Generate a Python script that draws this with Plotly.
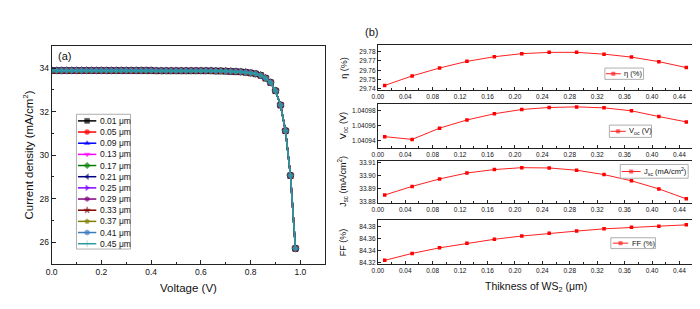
import plotly.graph_objects as go

# ---------------- data ----------------
voltage = [0.00, 0.02, 0.04, 0.06, 0.08, 0.10, 0.12, 0.14, 0.16, 0.18,
           0.20, 0.22, 0.24, 0.26, 0.28, 0.30, 0.32, 0.34, 0.36, 0.38,
           0.40, 0.42, 0.44, 0.46, 0.48, 0.50, 0.52, 0.54, 0.56, 0.58,
           0.60, 0.62, 0.64, 0.66, 0.68, 0.70, 0.72, 0.74, 0.76, 0.78,
           0.80, 0.82, 0.84, 0.86, 0.88, 0.90, 0.92, 0.94, 0.96, 0.98]
current_density = [33.89, 33.89, 33.89, 33.89, 33.89, 33.89, 33.89, 33.89, 33.89, 33.89,
                   33.89, 33.89, 33.89, 33.89, 33.89, 33.89, 33.89, 33.89, 33.89, 33.89,
                   33.89, 33.88, 33.88, 33.88, 33.88, 33.88, 33.88, 33.88, 33.88, 33.88,
                   33.88, 33.88, 33.88, 33.87, 33.87, 33.86, 33.85, 33.84, 33.83, 33.81,
                   33.78, 33.74, 33.67, 33.54, 33.34, 32.96, 32.30, 31.12, 29.06, 25.71]

thickness = [0.01, 0.05, 0.09, 0.13, 0.17, 0.21, 0.25, 0.29, 0.33, 0.37, 0.41, 0.45]
thickness_labels = ["0.01 μm", "0.05 μm", "0.09 μm", "0.13 μm", "0.17 μm", "0.21 μm",
                    "0.25 μm", "0.29 μm", "0.33 μm", "0.37 μm", "0.41 μm", "0.45 μm"]
series_colors = ["#000000", "#FF0000", "#0000FF", "#FF00FF", "#008000", "#000080",
                 "#8000FF", "#800080", "#800000", "#808000", "#3D7CC0", "#2A9C9C"]
series_symbols = ["square", "circle", "triangle-up", "triangle-down", "diamond",
                  "triangle-left", "triangle-right", "hexagon", "star", "pentagon",
                  "circle", "cross-thin"]

eta = [29.7436, 29.7539, 29.7624, 29.7696, 29.7746, 29.7779,
       29.7793, 29.7793, 29.7774, 29.7742, 29.7693, 29.7629]
voc = [1.040945, 1.0409413, 1.0409565, 1.0409676, 1.040976, 1.0409818,
       1.0409845, 1.0409853, 1.040984, 1.04098, 1.0409722, 1.040965]
jsc = [33.8854, 33.8919, 33.8975, 33.9020, 33.9046, 33.9060,
       33.9058, 33.9041, 33.9008, 33.8961, 33.8900, 33.8825]
ff = [84.3242, 84.3355, 84.3447, 84.3523, 84.3587, 84.3640,
      84.3684, 84.3721, 84.3758, 84.3785, 84.3802, 84.3823]

W, H = 700, 309
FONT = "Liberation Sans, Arial, sans-serif"
AX = "#222222"


def px_x(p):
    return p / W


def px_y(p):
    return 1 - p / H


fig = go.Figure()

# ---------------- left panel: J-V ----------------
for i, lab in enumerate(thickness_labels):
    fig.add_trace(go.Scatter(
        x=voltage, y=current_density, mode="lines+markers", name=lab,
        line=dict(color=series_colors[i], width=1.5),
        marker=dict(symbol=series_symbols[i], color=series_colors[i],
                    size=4.5 if i == 10 else 5.5,
                    line=dict(width=0.6, color=series_colors[i])),
        xaxis="x", yaxis="y", showlegend=False))

# ---------------- right panels ----------------
right = [(eta, "x2", "y2"), (voc, "x3", "y3"), (jsc, "x4", "y4"), (ff, "x5", "y5")]
for vals, xa, ya in right:
    fig.add_trace(go.Scatter(
        x=thickness, y=vals, mode="lines+markers",
        line=dict(color="#FF2020", width=1),
        marker=dict(symbol="square", color="#FF0000", size=3.5),
        xaxis=xa, yaxis=ya, showlegend=False))

# ---------------- manual legends (overlay pixel axis) ----------------
shapes = []
annotations = []


def legend_item(x0, x1, y, color, symbol, msize, text, tsize, lw):
    fig.add_trace(go.Scatter(
        x=[x0, (x0 + x1) / 2, x1], y=[y, y, y], mode="lines+markers",
        line=dict(color=color, width=lw),
        marker=dict(symbol=symbol, color=color, size=[0, msize, 0],
                    line=dict(width=0.5, color=color)),
        xaxis="x6", yaxis="y6", showlegend=False, hoverinfo="skip"))
    annotations.append(dict(x=px_x(x1 + 1.5), y=px_y(y), xref="paper", yref="paper", text=text,
                            showarrow=False, xanchor="left", yanchor="middle",
                            font=dict(family=FONT, size=tsize, color="#111")))


def legend_box(x0, y0, x1, y1):
    shapes.append(dict(type="rect", xref="x6", yref="y6", x0=x0, y0=y0, x1=x1, y1=y1,
                       line=dict(color="#999999", width=0.8), fillcolor="white", layer="below"))


legend_box(63, 106, 117.5, 243)
for i, lab in enumerate(thickness_labels):
    legend_item(64.5, 83, 112.7 + 11.35 * i, series_colors[i], series_symbols[i], 5,
                lab, 8.5, 1.5)

legend_box(596, 59, 635, 70.5)
legend_item(597, 612, 64.8, "#FF2020", "square", 3.5, "η (%)", 7.5, 1)
legend_box(600.5, 117, 643, 129.5)
legend_item(601.5, 617, 123.3, "#FF2020", "square", 3.5, "V<sub>oc</sub> (V)", 7.5, 1)
legend_box(611.5, 157, 680, 171)
legend_item(613, 632, 164.2, "#FF2020", "square", 3.5, "J<sub>sc</sub> (mA/cm<sup>2</sup>)", 7.5, 1)
legend_box(602, 231.5, 647, 242.5)
legend_item(604, 619.5, 237, "#FF2020", "square", 3.5, "FF (%)", 7.5, 1)

# ---------------- text ----------------
annotations += [
    dict(x=px_x(42), y=px_y(47), xref="paper", yref="paper", text="(a)", showarrow=False,
         xanchor="left", yanchor="middle", font=dict(family=FONT, size=11, color="#111")),
    dict(x=px_x(352), y=px_y(22), xref="paper", yref="paper", text="(b)", showarrow=False,
         xanchor="left", yanchor="middle", font=dict(family=FONT, size=11, color="#111")),
    dict(x=px_x(14), y=px_y(147), xref="paper", yref="paper",
         text="Current density (mA/cm<sup>2</sup>)", showarrow=False, textangle=-90,
         xanchor="center", yanchor="middle", font=dict(family=FONT, size=11.5, color="#111")),
    dict(x=px_x(176), y=px_y(283), xref="paper", yref="paper", text="Voltage (V)",
         showarrow=False, xanchor="center", yanchor="middle",
         font=dict(family=FONT, size=11.5, color="#111")),
    dict(x=px_x(527), y=px_y(282), xref="paper", yref="paper",
         text="Thikness of WS<sub>2</sub> (μm)", showarrow=False, xanchor="center",
         yanchor="middle", font=dict(family=FONT, size=10.5, color="#111")),
]
ytitles = [("η (%)", 58.5), ("V<sub>oc</sub> (V)", 118), ("J<sub>sc</sub> (mA/cm<sup>2</sup>)", 174.5),
           ("FF (%)", 236)]
for t, yc in ytitles:
    annotations.append(dict(x=px_x(332), y=px_y(yc), xref="paper", yref="paper", text=t,
                            showarrow=False, textangle=-90, xanchor="center", yanchor="middle",
                            font=dict(family=FONT, size=9, color="#111")))


def axis_common(**kw):
    d = dict(showgrid=False, zeroline=False, showline=True, linecolor=AX, linewidth=1,
             mirror=True, ticks="inside", tickcolor=AX, ticklen=3, tickwidth=1,
             tickfont=dict(family=FONT, size=6.5, color="#111"))
    d.update(kw)
    return d


layout = dict(
    width=W, height=H, margin=dict(l=0, r=0, t=0, b=0),
    paper_bgcolor="white", plot_bgcolor="rgba(0,0,0,0)",
    xaxis=axis_common(domain=[px_x(38), px_x(314)], anchor="y", range=[0, 1.1],
                      dtick=0.2, tickformat=".1f", ticklen=4,
                      tickfont=dict(family=FONT, size=8.5, color="#111"),
                      minor=dict(dtick=0.1, ticks="inside", ticklen=2, tickcolor=AX)),
    yaxis=axis_common(domain=[px_y(258), px_y(37)], anchor="x", range=[25, 35],
                      dtick=2, ticklen=4,
                      tickfont=dict(family=FONT, size=8.5, color="#111"),
                      minor=dict(dtick=1, ticks="inside", ticklen=2, tickcolor=AX)),
    xaxis6=dict(domain=[0, 1], range=[0, W], visible=False, anchor="y6", fixedrange=True),
    yaxis6=dict(domain=[0, 1], range=[H, 0], visible=False, anchor="x6", fixedrange=True),
    shapes=shapes, annotations=annotations,
)

right_dom = [(36, 81.5), (95.7, 140), (153, 196), (213, 258.3)]
right_ranges = [[29.7385, 29.7868], [1.04093, 1.040989], [33.8795, 33.9114], [84.318, 84.391]]
right_ticks = [dict(dtick=0.01, tickformat=".2f"),
               dict(tickvals=[1.04094, 1.04096, 1.04098], tickformat=".5f"),
               dict(dtick=0.01, tickformat=".2f"),
               dict(dtick=0.02, tickformat=".2f")]
for k in range(4):
    n = k + 2
    top, bot = right_dom[k]
    layout[f"xaxis{n}"] = axis_common(domain=[px_x(367), px_x(685)], anchor=f"y{n}",
                                      range=[0, 0.46], dtick=0.04, tickformat=".2f",
                                      minor=dict(dtick=0.02, ticks="inside", ticklen=2,
                                                 tickcolor=AX))
    layout[f"yaxis{n}"] = axis_common(domain=[px_y(bot), px_y(top)], anchor=f"x{n}",
                                      range=right_ranges[k], **right_ticks[k])

fig.update_layout(**layout)
fig.write_html("out.html")
